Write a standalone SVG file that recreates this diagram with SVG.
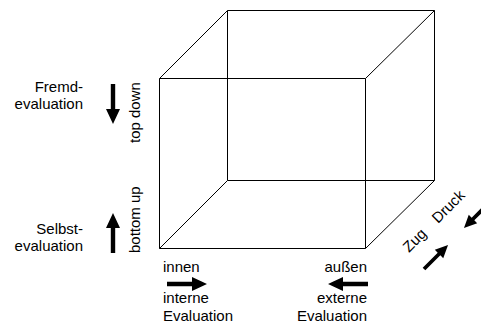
<svg xmlns="http://www.w3.org/2000/svg" width="481" height="326" viewBox="0 0 481 326">
<style>
text{font-family:"Liberation Sans",Arial,sans-serif;font-size:15px;fill:#000}
.e{text-anchor:end}
.cube line{stroke:#000;stroke-width:1;fill:none}
.arr{fill:#000}
</style>
<defs>
<polygon id="ar" points="0,-2.2 25,-2.2 25,-7 40,0 25,7 25,2.2 0,2.2"/>
</defs>
<rect width="481" height="326" fill="#fff"/>
<g id="cube" class="cube">
<line x1="159.5" y1="78.5" x2="365.5" y2="78.5"/>
<line x1="159.5" y1="248.5" x2="365.5" y2="248.5"/>
<line x1="159.5" y1="78.5" x2="159.5" y2="248.5"/>
<line x1="365.5" y1="78.5" x2="365.5" y2="248.5"/>
<line x1="227.5" y1="10.5" x2="434.5" y2="10.5"/>
<line x1="227.5" y1="180.5" x2="434.5" y2="180.5"/>
<line x1="227.5" y1="10.5" x2="227.5" y2="180.5"/>
<line x1="434.5" y1="10.5" x2="434.5" y2="180.5"/>
<line x1="159.5" y1="78.5" x2="227.5" y2="10.5"/>
<line x1="365.5" y1="78.5" x2="434.5" y2="10.5"/>
<line x1="159.5" y1="248.5" x2="227.5" y2="180.5"/>
<line x1="365.5" y1="248.5" x2="434.5" y2="180.5"/>
</g>
<g id="connectors" class="arr">
<use href="#ar" transform="translate(113,84) rotate(90)"/>
<use href="#ar" transform="translate(113,253) rotate(-90)"/>
<use href="#ar" transform="translate(167,284)"/>
<use href="#ar" transform="translate(368,284) rotate(180)"/>
<use href="#ar" transform="translate(424,269) rotate(-45) scale(0.85)"/>
<use href="#ar" transform="translate(488,204) rotate(135) scale(0.85)"/>
</g>
<g id="fremd">
<text class="e" x="83" y="92">Fremd-</text>
<text class="e" x="83" y="109">evaluation</text>
</g>
<g id="selbst">
<text class="e" x="83" y="234">Selbst-</text>
<text class="e" x="83" y="251">evaluation</text>
</g>
<g id="topdown"><text transform="translate(140,143) rotate(-90)">top down</text></g>
<g id="bottomup"><text transform="translate(140,253) rotate(-90)">bottom up</text></g>
<g id="innen">
<text x="163" y="272">innen</text>
<text x="163" y="303">interne</text>
<text x="163" y="321">Evaluation</text>
</g>
<g id="aussen">
<text class="e" x="367" y="272">außen</text>
<text class="e" x="367" y="303">externe</text>
<text class="e" x="367" y="321">Evaluation</text>
</g>
<g id="zug"><text transform="translate(409,253) rotate(-45)">Zug</text></g>
<g id="druck"><text transform="translate(438,224) rotate(-45)">Druck</text></g>
</svg>
